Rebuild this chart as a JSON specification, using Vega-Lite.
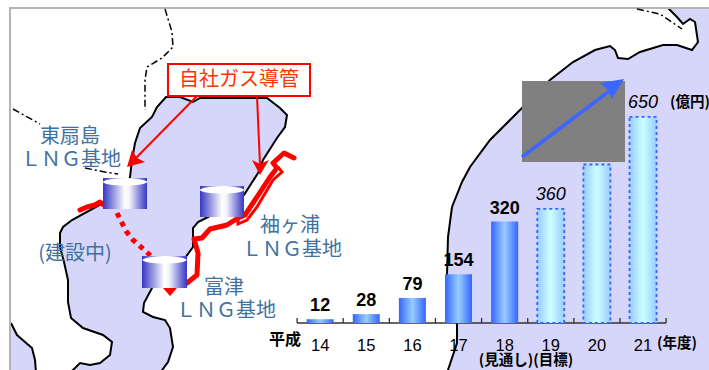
{
"$schema":"https://vega.github.io/schema/vega-lite/v6.json",
"autosize":"none",
"width":709,"height":370,"padding":0,"background":"white",
"view":{"stroke":null},
"datasets":{
"map":[
{"s":"bay","i":1,"x":70,"y":373},{"s":"bay","i":2,"x":80,"y":363},{"s":"bay","i":3,"x":90,"y":365},{"s":"bay","i":4,"x":100,"y":363},{"s":"bay","i":5,"x":110,"y":355},{"s":"bay","i":6,"x":112,"y":342},{"s":"bay","i":7,"x":103,"y":335},{"s":"bay","i":8,"x":83,"y":328},{"s":"bay","i":9,"x":71,"y":318},{"s":"bay","i":10,"x":68,"y":302},{"s":"bay","i":11,"x":68,"y":280},{"s":"bay","i":12,"x":64,"y":262},{"s":"bay","i":13,"x":60,"y":247},{"s":"bay","i":14,"x":60,"y":233},{"s":"bay","i":15,"x":63,"y":227},{"s":"bay","i":16,"x":72,"y":220},{"s":"bay","i":17,"x":103,"y":203},{"s":"bay","i":18,"x":125,"y":195},{"s":"bay","i":19,"x":130,"y":177},{"s":"bay","i":20,"x":132,"y":160},{"s":"bay","i":21,"x":135,"y":143},{"s":"bay","i":22,"x":140,"y":128},{"s":"bay","i":23,"x":152,"y":117},{"s":"bay","i":24,"x":157,"y":107},{"s":"bay","i":25,"x":166,"y":97},{"s":"bay","i":26,"x":180,"y":97},{"s":"bay","i":27,"x":193,"y":102},{"s":"bay","i":28,"x":200,"y":98},{"s":"bay","i":29,"x":267,"y":98},{"s":"bay","i":30,"x":280,"y":108},{"s":"bay","i":31,"x":287,"y":115},{"s":"bay","i":32,"x":285,"y":127},{"s":"bay","i":33,"x":277,"y":138},{"s":"bay","i":34,"x":263,"y":160},{"s":"bay","i":35,"x":258,"y":173},{"s":"bay","i":36,"x":244,"y":195},{"s":"bay","i":37,"x":208,"y":217},{"s":"bay","i":38,"x":198,"y":222},{"s":"bay","i":39,"x":193,"y":228},{"s":"bay","i":40,"x":193,"y":247},{"s":"bay","i":41,"x":185,"y":258},{"s":"bay","i":42,"x":165,"y":270},{"s":"bay","i":43,"x":152,"y":288},{"s":"bay","i":44,"x":144,"y":303},{"s":"bay","i":45,"x":143,"y":312},{"s":"bay","i":46,"x":153,"y":317},{"s":"bay","i":47,"x":165,"y":320},{"s":"bay","i":48,"x":170,"y":328},{"s":"bay","i":49,"x":173,"y":347},{"s":"bay","i":50,"x":168,"y":362},{"s":"bay","i":51,"x":160,"y":373},
{"s":"patch","i":1,"x":11,"y":323},{"s":"patch","i":2,"x":17,"y":335},{"s":"patch","i":3,"x":32,"y":348},{"s":"patch","i":4,"x":35,"y":360},{"s":"patch","i":5,"x":36,"y":373},{"s":"patch","i":6,"x":10,"y":373,"edge":true},
{"s":"sea","i":1,"x":447,"y":373},{"s":"sea","i":2,"x":457,"y":343},{"s":"sea","i":3,"x":457,"y":325},{"s":"sea","i":4,"x":447,"y":275},{"s":"sea","i":5,"x":448,"y":237},{"s":"sea","i":6,"x":452,"y":207},{"s":"sea","i":7,"x":462,"y":182},{"s":"sea","i":8,"x":470,"y":167},{"s":"sea","i":9,"x":490,"y":140},{"s":"sea","i":10,"x":522,"y":108},{"s":"sea","i":11,"x":550,"y":80},{"s":"sea","i":12,"x":573,"y":62},{"s":"sea","i":13,"x":595,"y":50},{"s":"sea","i":14,"x":610,"y":46},{"s":"sea","i":15,"x":615,"y":50},{"s":"sea","i":16,"x":618,"y":58},{"s":"sea","i":17,"x":628,"y":59},{"s":"sea","i":18,"x":640,"y":52},{"s":"sea","i":19,"x":663,"y":45},{"s":"sea","i":20,"x":677,"y":45},{"s":"sea","i":21,"x":692,"y":50},{"s":"sea","i":22,"x":698,"y":42},{"s":"sea","i":23,"x":695,"y":22},{"s":"sea","i":24,"x":690,"y":19},{"s":"sea","i":25,"x":683,"y":24},{"s":"sea","i":26,"x":677,"y":17},{"s":"sea","i":27,"x":668,"y":8},{"s":"sea","i":28,"x":712,"y":8,"edge":true},{"s":"sea","i":29,"x":712,"y":373,"edge":true},
{"s":"frame","i":1,"x":10,"y":373},{"s":"frame","i":2,"x":10,"y":8},{"s":"frame","i":3,"x":712,"y":8},
{"s":"border1","i":1,"x":165,"y":9},{"s":"border1","i":2,"x":172,"y":32},{"s":"border1","i":3,"x":173,"y":47},{"s":"border1","i":4,"x":162,"y":58},{"s":"border1","i":5,"x":147,"y":67},{"s":"border1","i":6,"x":145,"y":80},{"s":"border1","i":7,"x":145,"y":110},
{"s":"border2","i":1,"x":13,"y":109},{"s":"border2","i":2,"x":40,"y":124},
{"s":"border3","i":1,"x":85,"y":168},{"s":"border3","i":2,"x":105,"y":172},{"s":"border3","i":3,"x":118,"y":174},
{"s":"border4","i":1,"x":637,"y":9},{"s":"border4","i":2,"x":660,"y":14},{"s":"border4","i":3,"x":682,"y":29},
{"s":"pipe1","i":1,"x":80,"y":210},{"s":"pipe1","i":2,"x":87,"y":207},{"s":"pipe1","i":3,"x":95,"y":205},{"s":"pipe1","i":4,"x":100,"y":202},{"s":"pipe1","i":5,"x":104,"y":205},
{"s":"pipe2","i":1,"x":187,"y":283},{"s":"pipe2","i":2,"x":197,"y":275},{"s":"pipe2","i":3,"x":198,"y":253},{"s":"pipe2","i":4,"x":194,"y":239},{"s":"pipe2","i":5,"x":202,"y":238},{"s":"pipe2","i":6,"x":210,"y":229},{"s":"pipe2","i":7,"x":227,"y":225},{"s":"pipe2","i":8,"x":238,"y":218},{"s":"pipe2","i":9,"x":245,"y":215},{"s":"pipe2","i":10,"x":255,"y":200},{"s":"pipe2","i":11,"x":270,"y":177},{"s":"pipe2","i":12,"x":277,"y":168},{"s":"pipe2","i":13,"x":273,"y":163},{"s":"pipe2","i":14,"x":284,"y":153},{"s":"pipe2","i":15,"x":294,"y":158},
{"s":"pipe3","i":1,"x":238,"y":217},{"s":"pipe3","i":2,"x":238,"y":224},{"s":"pipe3","i":3,"x":247,"y":220},{"s":"pipe3","i":4,"x":257,"y":207},{"s":"pipe3","i":5,"x":273,"y":180},{"s":"pipe3","i":6,"x":282,"y":172},{"s":"pipe3","i":7,"x":278,"y":167},
{"s":"planned","i":1,"x":117,"y":213},{"s":"planned","i":2,"x":126,"y":231},{"s":"planned","i":3,"x":133,"y":240},{"s":"planned","i":4,"x":141,"y":247},{"s":"planned","i":5,"x":151,"y":256},
{"s":"shaft1","i":1,"x":197,"y":96},{"s":"shaft1","i":2,"x":134,"y":160},
{"s":"shaft2","i":1,"x":257,"y":96},{"s":"shaft2","i":2,"x":260,"y":165},
{"s":"head1","i":1,"x":127,"y":167},{"s":"head1","i":2,"x":145,"y":162},{"s":"head1","i":3,"x":137,"y":158},{"s":"head1","i":4,"x":132,"y":150},
{"s":"head2","i":1,"x":260,"y":175},{"s":"head2","i":2,"x":252,"y":160},{"s":"head2","i":3,"x":260,"y":164},{"s":"head2","i":4,"x":269,"y":160},
{"s":"spur","i":1,"x":163,"y":288},{"s":"spur","i":2,"x":170,"y":296},{"s":"spur","i":3,"x":177,"y":288}
],
"tanks":[
{"x":103,"x2":147,"y":178,"y2":209,"cx":125,"ty":182},
{"x":142,"x2":187,"y":256,"y2":288,"cx":164.5,"ty":260},
{"x":200,"x2":244,"y":186,"y2":217,"cx":222,"ty":190}
],
"bars":[
{"year":14,"value":12,"kind":"actual"},{"year":15,"value":28,"kind":"actual"},{"year":16,"value":79,"kind":"actual"},{"year":17,"value":154,"kind":"actual"},{"year":18,"value":320,"kind":"actual"},
{"year":19,"value":360,"kind":"target"},{"year":20,"value":500,"kind":"target","hidden":true},{"year":21,"value":650,"kind":"target"}
],
"ticks":[{"t":13.5,"lo":0,"hi":16},{"t":14.5,"lo":0,"hi":16},{"t":15.5,"lo":0,"hi":16},{"t":16.5,"lo":0,"hi":16},{"t":17.5,"lo":0,"hi":16},{"t":18.5,"lo":0,"hi":16},{"t":19.5,"lo":0,"hi":16},{"t":20.5,"lo":0,"hi":16},{"t":21.5,"lo":0,"hi":16}],
"baseline":[{"from":13.5,"to":21.5,"lo":0}],
"labels":[
{"t":"東扇島","x":70,"y":137},{"t":"ＬＮＧ基地","x":71,"y":160},{"t":"(建設中)","x":75,"y":254},
{"t":"袖ヶ浦","x":290,"y":226},{"t":"ＬＮＧ基地","x":292,"y":250},{"t":"富津","x":224,"y":288},{"t":"ＬＮＧ基地","x":226,"y":311}
],
"notes":[
{"t":"(年度)","x":677,"y":344},{"t":"(見通し)(目標)","x":526,"y":361},{"t":"(億円)","x":690,"y":103}
]
},
"resolve":{"scale":{"x":"independent","y":"independent"}},
"layer":[
{
"encoding":{
"x":{"field":"x","type":"quantitative","scale":{"domain":[0,709],"nice":false,"zero":false},"axis":null},
"y":{"field":"y","type":"quantitative","scale":{"domain":[370,0],"nice":false,"zero":false},"axis":null}
},
"layer":[
{"data":{"name":"map"},"transform":[{"filter":"indexof(['bay','patch','sea'],datum.s)>=0"}],"mark":{"type":"line","fill":"#d6d6fb","strokeWidth":0,"interpolate":"linear"},"encoding":{"detail":{"field":"s"},"order":{"field":"i","type":"quantitative"}}},
{"data":{"name":"map"},"transform":[{"filter":"indexof(['bay','patch','sea'],datum.s)>=0 && !datum.edge"}],"mark":{"type":"line","stroke":"black","strokeWidth":2},"encoding":{"detail":{"field":"s"},"order":{"field":"i","type":"quantitative"}}},
{"data":{"name":"map"},"transform":[{"filter":"datum.s==='frame'"}],"mark":{"type":"line","stroke":"#b4b4b4","strokeWidth":2},"encoding":{"order":{"field":"i","type":"quantitative"}}},
{"data":{"name":"map"},"transform":[{"filter":"indexof(datum.s,'border')===0"}],"mark":{"type":"line","stroke":"black","strokeWidth":1.5,"strokeDash":[7,3,2,3]},"encoding":{"detail":{"field":"s"},"order":{"field":"i","type":"quantitative"}}},
{"data":{"name":"map"},"transform":[{"filter":"datum.s==='pipe1'||datum.s==='pipe2'"}],"mark":{"type":"line","stroke":"#ff0000","strokeWidth":5,"strokeCap":"round","strokeJoin":"round"},"encoding":{"detail":{"field":"s"},"order":{"field":"i","type":"quantitative"}}},
{"data":{"name":"map"},"transform":[{"filter":"datum.s==='pipe3'"}],"mark":{"type":"line","stroke":"#ff0000","strokeWidth":3},"encoding":{"order":{"field":"i","type":"quantitative"}}},
{"data":{"name":"map"},"transform":[{"filter":"datum.s==='planned'"}],"mark":{"type":"line","stroke":"#ff0000","strokeWidth":5,"strokeDash":[5,5]},"encoding":{"order":{"field":"i","type":"quantitative"}}},
{"data":{"name":"map"},"transform":[{"filter":"datum.s==='shaft1'||datum.s==='shaft2'"}],"mark":{"type":"line","stroke":"#ff0000","strokeWidth":2},"encoding":{"detail":{"field":"s"},"order":{"field":"i","type":"quantitative"}}},
{"data":{"name":"map"},"transform":[{"filter":"indexof(['head1','head2','spur'],datum.s)>=0"}],"mark":{"type":"line","fill":"#ff0000","strokeWidth":0},"encoding":{"detail":{"field":"s"},"order":{"field":"i","type":"quantitative"}}},
{"data":{"name":"tanks"},"mark":{"type":"rect","fill":{"gradient":"linear","x1":0,"y1":0,"x2":1,"y2":0,"stops":[{"offset":0,"color":"#3636c4"},{"offset":0.5,"color":"#ffffff"},{"offset":0.6,"color":"#f4f4fc"},{"offset":1,"color":"#3636c4"}]}},"encoding":{"x2":{"field":"x2"},"y2":{"field":"y2"}}},
{"data":{"name":"tanks"},"mark":{"type":"point","shape":"M-1,0A1,.16 0 1,1 1,0A1,.16 0 1,1 -1,0Z","size":1936,"filled":true,"fill":"white","opacity":1,"strokeWidth":0},"encoding":{"x":{"field":"cx","type":"quantitative"},"y":{"field":"ty","type":"quantitative"}}},
{"data":{"name":"labels"},"mark":{"type":"text","font":"Noto Sans CJK JP","fontSize":20,"fill":"#41719f","align":"center","baseline":"middle"},"encoding":{"text":{"field":"t"}}}
]
},
{
"data":{"name":"bars"},
"encoding":{
"x":{"field":"year","type":"quantitative","scale":{"domain":[7.06,22.43],"nice":false,"zero":false,"padding":0},"axis":null},
"y":{"field":"value","type":"quantitative","scale":{"domain":[-148.3,1019],"nice":false,"zero":false},"axis":null}
},
"layer":[
{"data":{"name":"ticks"},"mark":{"type":"rule","stroke":"#333333","strokeWidth":1.3},"encoding":{"x":{"field":"t","type":"quantitative"},"y":{"field":"lo","type":"quantitative"},"y2":{"field":"hi"}}},
{"data":{"name":"baseline"},"mark":{"type":"rule","stroke":"#333333","strokeWidth":1.5},"encoding":{"x":{"field":"from","type":"quantitative"},"x2":{"field":"to"},"y":{"field":"lo","type":"quantitative"}}},
{"transform":[{"filter":"datum.kind==='actual'"}],"mark":{"type":"bar","orient":"vertical","size":27,"fill":{"gradient":"linear","x1":0,"y1":0,"x2":1,"y2":0,"stops":[{"offset":0,"color":"#3366ff"},{"offset":0.5,"color":"#99ccff"},{"offset":1,"color":"#3366ff"}]}}},
{"transform":[{"filter":"datum.kind==='target'"}],"mark":{"type":"bar","orient":"vertical","size":27,"stroke":"#3366ff","strokeWidth":1.8,"strokeDash":[3,3],"fill":{"gradient":"linear","x1":0,"y1":0,"x2":1,"y2":0,"stops":[{"offset":0,"color":"#99ccff"},{"offset":0.5,"color":"#ccffff"},{"offset":1,"color":"#99ccff"}]}}},
{"transform":[{"filter":"datum.kind==='actual'"}],"mark":{"type":"text","font":"Liberation Sans","fontSize":18,"fontWeight":"bold","fill":"black","align":"center","baseline":"alphabetic","dy":-8},"encoding":{"text":{"field":"value","type":"quantitative"}}},
{"transform":[{"filter":"datum.kind==='target' && !datum.hidden"}],"mark":{"type":"text","font":"Liberation Sans","fontSize":18,"fontStyle":"italic","fill":"black","align":"center","baseline":"alphabetic","dy":-9},"encoding":{"text":{"field":"value","type":"quantitative"}}},
{"mark":{"type":"text","font":"Liberation Sans","fontSize":16.5,"fill":"black","align":"center","baseline":"alphabetic"},"encoding":{"y":{"datum":-88},"text":{"field":"year","type":"quantitative"}}}
]
},
{
"encoding":{
"x":{"field":"x","type":"quantitative","scale":{"domain":[0,709],"nice":false,"zero":false},"axis":null},
"y":{"field":"y","type":"quantitative","scale":{"domain":[370,0],"nice":false,"zero":false},"axis":null}
},
"layer":[
{"data":{"values":[{"x":522,"x2":625,"y":81,"y2":162}]},"mark":{"type":"rect","fill":"#808080"},"encoding":{"x2":{"field":"x2"},"y2":{"field":"y2"}}},
{"data":{"values":[{"x":522,"y":157,"i":1},{"x":612,"y":89,"i":2}]},"mark":{"type":"line","stroke":"#3c66ff","strokeWidth":3.5},"encoding":{"order":{"field":"i","type":"quantitative"}}},
{"data":{"values":[{"x":624,"y":79,"i":1},{"x":600,"y":83,"i":2},{"x":608,"y":90,"i":3},{"x":612,"y":99,"i":4}]},"mark":{"type":"line","fill":"#3c66ff","strokeWidth":0},"encoding":{"order":{"field":"i","type":"quantitative"}}},
{"data":{"values":[{"x":168,"x2":310,"y":64,"y2":96}]},"mark":{"type":"rect","fill":"white","stroke":"#ff0000","strokeWidth":2},"encoding":{"x2":{"field":"x2"},"y2":{"field":"y2"}}},
{"data":{"values":[{"t":"自社ガス導管","x":239,"y":80}]},"mark":{"type":"text","font":"Noto Sans CJK JP","fontSize":20,"fill":"#ff3300","align":"center","baseline":"middle"},"encoding":{"text":{"field":"t"}}},
{"data":{"name":"notes"},"mark":{"type":"text","font":"Noto Sans CJK JP","fontSize":14.5,"fontWeight":"bold","fill":"black","align":"center","baseline":"middle"},"encoding":{"text":{"field":"t"}}},
{"data":{"values":[{"t":"平成","x":285,"y":340}]},"mark":{"type":"text","font":"Noto Sans CJK JP","fontSize":16,"fontWeight":"bold","fill":"black","align":"center","baseline":"middle"},"encoding":{"text":{"field":"t"}}}
]
}
]
}
